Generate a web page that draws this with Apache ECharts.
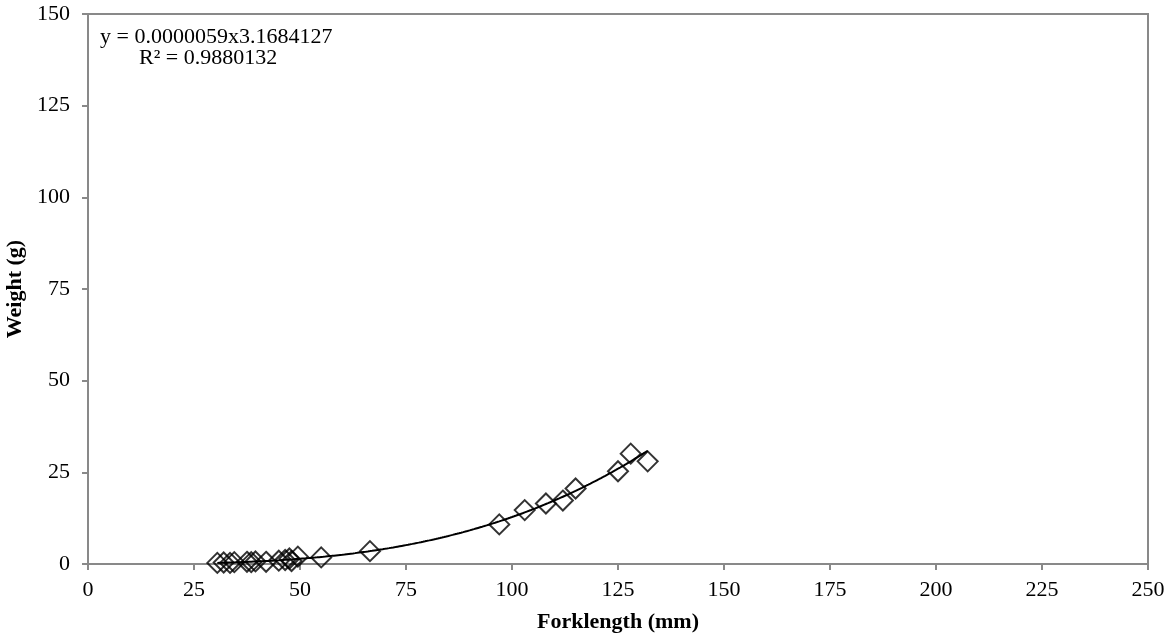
<!DOCTYPE html>
<html>
<head>
<meta charset="utf-8">
<script src="https://cdn.jsdelivr.net/npm/echarts@6/dist/echarts.min.js"></script>
<style>
  html, body { margin: 0; padding: 0; background: #fff; }
  #chart { width: 1170px; height: 639px; }
</style>
</head>
<body>
<div id="chart"></div>
<script>
// Fork length (mm) of each fish
const forkLength = [30.5, 32, 33.5, 34.5, 37.5, 38.5, 39.5, 42, 45, 46.5, 47.5, 48, 49.5, 55, 66.5, 97, 103, 108, 112, 115, 125, 128, 132];
// Weight (g) of each fish
const weight = [0.3, 0.4, 0.3, 0.5, 0.6, 0.5, 0.7, 0.6, 0.9, 1.1, 1.5, 0.8, 2.0, 1.8, 3.5, 10.8, 14.7, 16.5, 17.3, 20.6, 25.3, 30.1, 28.0];

// Power trendline y = a * x^b
const trendA = 0.0000059;
const trendB = 3.1684127;
const trendR2 = 0.9880132;

const xTicks = [0, 25, 50, 75, 100, 125, 150, 175, 200, 225, 250];
const yTicks = [0, 25, 50, 75, 100, 125, 150];

const points = forkLength.map((x, i) => [x, weight[i]]);

// Trendline drawn across the observed length range
const xMin = Math.min(...forkLength);
const xMax = Math.max(...forkLength);
const trend = [];
for (let x = xMin; x <= xMax + 1e-9; x += 0.5) {
  trend.push([x, trendA * Math.pow(x, trendB)]);
}

const axisGray = '#898989';
const serif = '"Liberation Serif", "Times New Roman", serif';
const fontSize = 22;

const chart = echarts.init(document.getElementById('chart'));
chart.setOption({
  animation: false,
  backgroundColor: '#fff',
  grid: {
    left: 88, right: 22, top: 14, bottom: 75,
    containLabel: false, outerBoundsMode: 'none',
    show: true, borderColor: axisGray, borderWidth: 2, backgroundColor: 'transparent'
  },
  xAxis: {
    type: 'value',
    min: xTicks[0], max: xTicks[xTicks.length - 1], interval: 25,
    name: 'Forklength (mm)', nameLocation: 'middle', nameGap: 47,
    nameTextStyle: { fontFamily: serif, fontSize: fontSize, fontWeight: 'bold', color: '#000' },
    axisLine: { show: true, lineStyle: { color: axisGray, width: 2 } },
    axisTick: { show: true, inside: false, length: 6, lineStyle: { color: axisGray, width: 2 } },
    axisLabel: { fontFamily: serif, fontSize: fontSize, color: '#000', margin: 15 },
    splitLine: { show: false }
  },
  yAxis: {
    type: 'value',
    min: yTicks[0], max: yTicks[yTicks.length - 1], interval: 25,
    name: 'Weight (g)', nameLocation: 'middle', nameGap: 54, nameRotate: 90,
    nameTextStyle: { fontFamily: serif, fontSize: fontSize, fontWeight: 'bold', color: '#000' },
    axisLine: { show: true, lineStyle: { color: axisGray, width: 2 } },
    axisTick: { show: true, inside: false, length: 6, lineStyle: { color: axisGray, width: 2 } },
    axisLabel: { fontFamily: serif, fontSize: fontSize, color: '#000', margin: 18 },
    splitLine: { show: false }
  },
  graphic: [
    {
      type: 'text', left: 100, top: 26,
      style: { text: 'y = ' + trendA.toFixed(7) + 'x' + trendB, font: fontSize + 'px ' + serif, fill: '#000' }
    },
    {
      type: 'text', left: 139, top: 47,
      style: { text: 'R² = ' + trendR2, font: fontSize + 'px ' + serif, fill: '#000' }
    }
  ],
  series: [
    {
      type: 'line',
      data: trend,
      showSymbol: false,
      lineStyle: { color: '#000', width: 2 },
      z: 2
    },
    {
      type: 'scatter',
      data: points,
      symbol: 'diamond',
      symbolSize: 20,
      itemStyle: { color: 'transparent', borderColor: '#000', borderWidth: 2 },
      z: 3
    }
  ]
});
</script>
</body>
</html>
